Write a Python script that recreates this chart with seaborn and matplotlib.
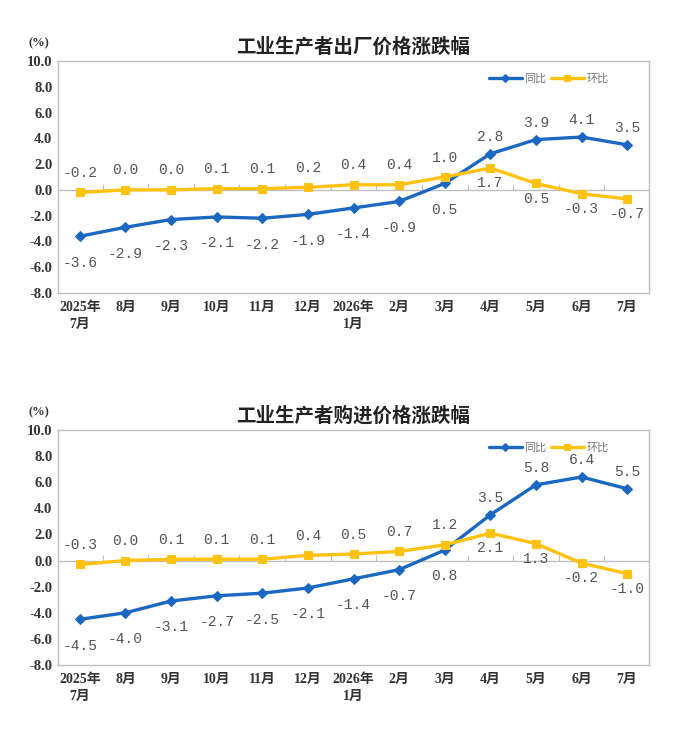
#! /usr/bin/env python3
'''
PPI and purchase price index charts, two panels
'''

# imports
from matplotlib import rcParams
import matplotlib.pyplot as plt
import numpy as np
import seaborn as sns

# data
MONTHS = ['2025年\n7月', '8月', '9月', '10月', '11月', '12月', '2026年\n1月',
          '2月', '3月', '4月', '5月', '6月', '7月']
PPI_YOY = [-3.6, -2.9, -2.3, -2.1, -2.2, -1.9, -1.4, -0.9, 0.5, 2.8, 3.9, 4.1, 3.5]
PPI_MOM = [-0.2, 0.0, 0.0, 0.1, 0.1, 0.2, 0.4, 0.4, 1.0, 1.7, 0.5, -0.3, -0.7]
PUR_YOY = [-4.5, -4.0, -3.1, -2.7, -2.5, -2.1, -1.4, -0.7, 0.8, 3.5, 5.8, 6.4, 5.5]
PUR_MOM = [-0.3, 0.0, 0.1, 0.1, 0.1, 0.4, 0.5, 0.7, 1.2, 2.1, 1.3, -0.2, -1.0]
YTICKS = [-8.0, -6.0, -4.0, -2.0, 0.0, 2.0, 4.0, 6.0, 8.0, 10.0]
TITLES = ['工业生产者出厂价格涨跌幅', '工业生产者购进价格涨跌幅']

# style
BLUE = '#1A68C2'
GOLD = '#FFC20E'
GREY = '#BFBFBF'
LABEL_COLOR = '#555555'
sns.set_style('white')
rcParams['font.family'] = ['Liberation Serif', 'Noto Sans CJK SC']
rcParams['axes.unicode_minus'] = False

def draw_panel(ax, yoy, mom, title):
    x = np.arange(len(MONTHS))
    sns.lineplot(x=x, y=yoy, ax=ax, color=BLUE, linewidth=2.4, marker='D',
                 markersize=5.5, markeredgecolor=BLUE, label='同比')
    sns.lineplot(x=x, y=mom, ax=ax, color=GOLD, linewidth=2.4, marker='s',
                 markersize=6, markeredgecolor=GOLD, label='环比')

    # value labels: the higher series is labelled above, the lower below
    lab = dict(textcoords='offset points', ha='center', va='center', fontsize=10.5,
               color=LABEL_COLOR, family='Liberation Mono')
    for i, (a, b) in enumerate(zip(yoy, mom)):
        ya = 12 if a > b else -19
        yb = 14 if b >= a else -11
        ax.annotate(f'{a:.1f}', (i, a), xytext=(0, ya), **lab)
        ax.annotate(f'{b:.1f}', (i, b), xytext=(0, yb), **lab)

    ax.set_xlim(-0.48, len(MONTHS) - 0.52)
    ax.set_ylim(YTICKS[0], YTICKS[-1])
    ax.set_xticks(x)
    ax.set_xticklabels(MONTHS, fontsize=10, fontweight='bold', linespacing=1.35)
    ax.set_yticks(YTICKS)
    ax.set_yticklabels([f'{v:.1f}' for v in YTICKS], fontsize=10.5, fontweight='bold')
    ax.tick_params(axis='x', length=0, pad=6, colors='#333333')
    ax.tick_params(axis='y', direction='in', length=3, width=0.8, pad=4, colors='#333333')
    ax.tick_params(axis='y', color=GREY)
    for s in ax.spines.values():
        s.set_color(GREY); s.set_linewidth(1.0)

    # zero line with category boundary ticks
    zero = (0 - YTICKS[0]) / (YTICKS[-1] - YTICKS[0])
    sec = ax.secondary_xaxis(zero)
    sec.set_xticks(np.arange(0.5, len(MONTHS) - 1, 1.0))
    sec.tick_params(direction='in', length=4, width=0.8, color=GREY,
                    labelbottom=False, labeltop=False)
    for s in sec.spines.values():
        s.set_color(GREY); s.set_linewidth(1.0)

    ax.set_title(title, fontsize=14, fontweight='bold', family='Noto Sans CJK SC',
                 color='#222222', pad=6)
    ax.annotate('(%)', (-0.032, 1.075), xycoords='axes fraction', ha='center',
                va='center', fontsize=9, fontweight='bold', color='#333333')
    leg = ax.legend(loc='center', bbox_to_anchor=(0.83, 0.925), ncol=2, frameon=False,
                    handlelength=3.0, handletextpad=0.2, columnspacing=0.4,
                    prop={'family': 'Noto Sans CJK SC', 'size': 8})
    for t in leg.get_texts():
        t.set_color('#777777')
    for h in leg.legend_handles:
        h.set_markersize(4)

fig = plt.figure(figsize=(6.84, 7.29), dpi=100)
ax_top = fig.add_axes([58 / 684, 1 - 293 / 729, 591 / 684, 232 / 729])
ax_bot = fig.add_axes([58 / 684, 1 - 665 / 729, 591 / 684, 235 / 729])
draw_panel(ax_top, PPI_YOY, PPI_MOM, TITLES[0])
draw_panel(ax_bot, PUR_YOY, PUR_MOM, TITLES[1])
fig.savefig('out.png', dpi=100, facecolor='white')
